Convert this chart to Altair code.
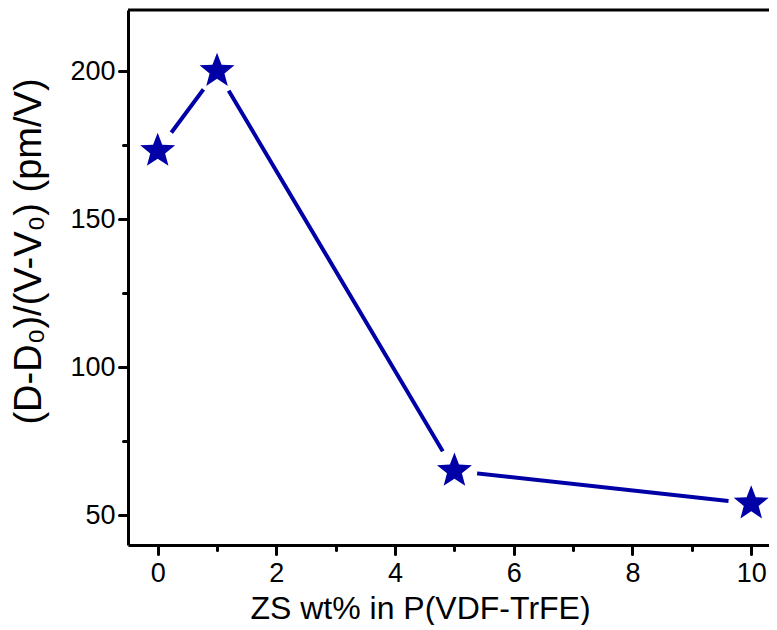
import altair as alt
import pandas as pd

zs_wt = [0, 1, 5, 10]
coeff = [173, 200, 65, 54]

x_major_minor = [0, 1, 2, 3, 4, 5, 6, 7, 8, 9, 10]
y_major_minor = [50, 75, 100, 125, 150, 175, 200]

df = pd.DataFrame({"x": zs_wt, "y": coeff})

BLUE = "#0000A6"
FONT = "Liberation Sans"
W, H = 641, 535
STAR = ("M0,-1 L0.2500,-0.344 L0.9511,-0.309 L0.4045,0.131 L0.5878,0.809 "
        "L0,0.425 L-0.5878,0.809 L-0.4045,0.131 L-0.9511,-0.309 L-0.2500,-0.344 Z")

xscale = alt.Scale(domain=[-0.5, 10.3], nice=False, zero=False)
yscale = alt.Scale(domain=[40, 220.6], nice=False, zero=False)

xaxis = alt.Axis(
    orient="bottom",
    values=x_major_minor,
    format="d",
    title="ZS wt% in P(VDF-TrFE)",
    titleFont=FONT, titleFontSize=32, titleFontWeight="normal", titleColor="black",
    titleX=292, titleY=63, titleBaseline="middle", titleAlign="center",
    labelFont=FONT, labelFontSize=27, labelColor="black", labelPadding=6,
    labelExpr="datum.value % 2 === 0 ? datum.label : ''",
    tickSize={"condition": {"test": "datum.value % 2 !== 0", "value": 5}, "value": 9},
    tickWidth=3, tickColor="black", tickCap="round",
    domainColor="black", domainWidth=3, grid=False,
)
yaxis = alt.Axis(
    orient="left",
    values=y_major_minor,
    format="d",
    title="(D-D₀)/(V-V₀) (pm/V)",
    titleFont=FONT, titleFontSize=38, titleFontWeight="normal", titleColor="black",
    titleX=-99, titleY=241, titleBaseline="middle", titleAlign="center", titleAngle=270,
    labelFont=FONT, labelFontSize=27, labelColor="black", labelPadding=4,
    labelExpr="datum.value % 50 === 0 ? datum.label : ''",
    tickSize={"condition": {"test": "datum.value % 50 !== 0", "value": 5}, "value": 9},
    tickWidth=3, tickColor="black", tickCap="round",
    domainColor="black", domainWidth=3, grid=False,
)

base = alt.Chart(df)

line = base.mark_line(color=BLUE, strokeWidth=4).encode(
    x=alt.X("x:Q", scale=xscale, axis=xaxis),
    y=alt.Y("y:Q", scale=yscale, axis=yaxis),
)

halo = base.mark_point(shape="circle", filled=True, color="white", opacity=1, size=2100).encode(
    x=alt.X("x:Q", scale=xscale),
    y=alt.Y("y:Q", scale=yscale),
)

stars = base.mark_point(shape=STAR, filled=True, color=BLUE, opacity=1, size=1350).encode(
    x=alt.X("x:Q", scale=xscale),
    y=alt.Y("y:Q", scale=yscale),
)

top_frame = alt.Chart(pd.DataFrame({"v": [0]})).mark_rule(color="black", strokeWidth=3).encode(
    x=alt.value(0), x2=alt.value(W), y=alt.value(0)
)

chart = alt.layer(line, halo, stars, top_frame).properties(
    width=W, height=H,
    autosize=alt.AutoSizeParams(type="none"),
    padding={"left": 120, "top": 2, "right": 0, "bottom": 80},
).configure_view(stroke=None)

chart.save("out.html", embed_options={"renderer": "svg", "actions": False})
